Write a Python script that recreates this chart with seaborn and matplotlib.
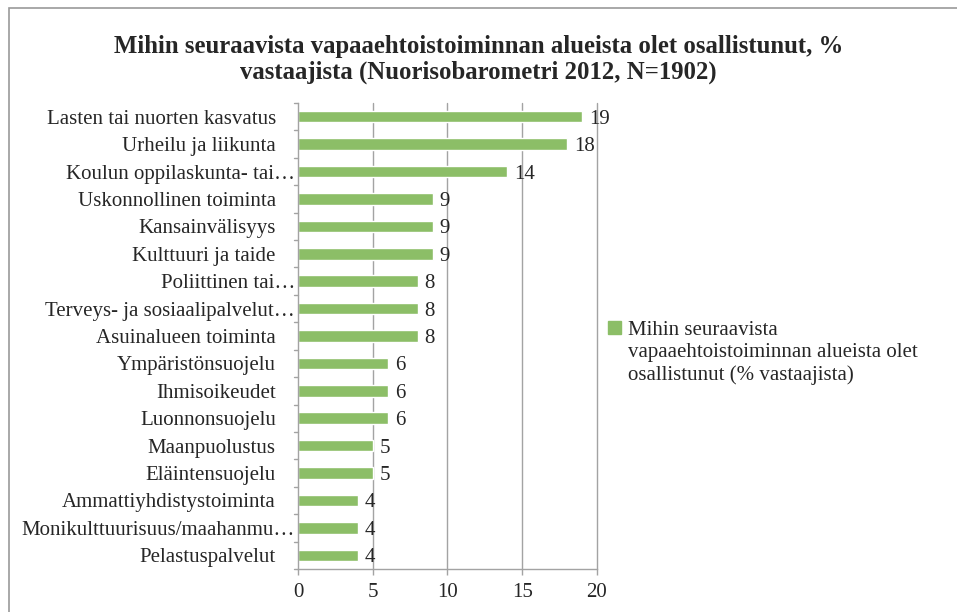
import pandas as pd
import matplotlib.pyplot as plt
import seaborn as sns
from matplotlib.patches import Rectangle

# Chart data
categories = [
    "Lasten tai nuorten kasvatus",
    "Urheilu ja liikunta",
    "Koulun oppilaskunta- tai…",
    "Uskonnollinen toiminta",
    "Kansainvälisyys",
    "Kulttuuri ja taide",
    "Poliittinen tai…",
    "Terveys- ja sosiaalipalvelut…",
    "Asuinalueen toiminta",
    "Ympäristönsuojelu",
    "Ihmisoikeudet",
    "Luonnonsuojelu",
    "Maanpuolustus",
    "Eläintensuojelu",
    "Ammattiyhdistystoiminta",
    "Monikulttuurisuus/maahanmu…",
    "Pelastuspalvelut",
]
values = [19, 18, 14, 9, 9, 9, 8, 8, 8, 6, 6, 6, 5, 5, 4, 4, 4]
x_ticks = [0, 5, 10, 15, 20]
series_name = "Mihin seuraavista\nvapaaehtoistoiminnan alueista olet\nosallistunut (% vastaajista)"
title = "Mihin seuraavista vapaaehtoistoiminnan alueista olet osallistunut, %\nvastaajista (Nuorisobarometri 2012, N=1902)"

df = pd.DataFrame({"category": categories, "value": values})

sns.set_theme(style="white")
plt.rcParams["font.family"] = ["Liberation Serif", "DejaVu Serif"]

bar_color = "#8CBE67"
grid_color = "#a3a3a3"
text_color = "#262626"
fs = 15

fig = plt.figure(figsize=(9.57, 6.12), dpi=100)
ax = fig.add_axes([0.3114, 0.0703, 0.3124, 0.7614])

sns.barplot(data=df, x="value", y="category", orient="h", color=bar_color,
            width=0.42, saturation=1, ax=ax)

ax.set_xlim(0, 20)
ax.set_ylim(len(categories) - 0.5, -0.5)
ax.set_xticks(x_ticks)
ax.set_xticklabels([str(t) for t in x_ticks], fontsize=fs, color=text_color)
ax.set_yticks(range(len(categories)))
ax.set_yticklabels(categories, fontsize=fs, color=text_color)
ax.set_xlabel("")
ax.set_ylabel("")

# vertical gridlines
for t in x_ticks[1:]:
    ax.axvline(t, color=grid_color, lw=1.0, zorder=0, clip_on=False)

for side in ["top", "right"]:
    ax.spines[side].set_visible(False)
for side in ["left", "bottom"]:
    ax.spines[side].set_color(grid_color)
    ax.spines[side].set_linewidth(1.0)
ax.tick_params(axis="y", length=0, pad=16)
ax.tick_params(axis="x", bottom=True, length=4, width=1.0, color=grid_color, pad=6)

# truncated labels sit closer to the axis (Excel keeps room for the ellipsis)
for tick, name in zip(ax.yaxis.get_major_ticks(), categories):
    if name.endswith("…"):
        tick.set_pad(2)

# Excel-style ticks between categories
for b in range(len(categories) + 1):
    ax.plot([-0.25, 0], [b - 0.5, b - 0.5], color=grid_color, lw=1.0,
            clip_on=False, zorder=3)

# data labels
for i, v in enumerate(values):
    ax.annotate(str(v), xy=(v, i), xytext=(5, 0), textcoords="offset points",
                va="center_baseline", ha="left", fontsize=fs, color=text_color)

# legend
handles = [Rectangle((0, 0), 1, 1, color=bar_color)]
leg = fig.legend(handles, [series_name], loc="upper left", bbox_to_anchor=(0.624, 0.493),
                 frameon=False, fontsize=15, handlelength=0.62, handleheight=0.62,
                 handletextpad=0.35, labelcolor=text_color, borderpad=0)
for t in leg.get_texts():
    t.set_linespacing(1.22)
for col in leg._legend_handle_box.get_children():
    for hp in col.get_children():
        hp.align = "top"

fig.suptitle(title, fontsize=17.8, fontweight="bold", color=text_color,
             y=0.942, linespacing=1.13)

# outer chart frame
fig.patches.append(Rectangle((0.009, -0.01), 1.0, 0.997, transform=fig.transFigure,
                             fill=False, edgecolor="#9a9a9a", lw=1.2))

fig.savefig("out.png", dpi=100)
